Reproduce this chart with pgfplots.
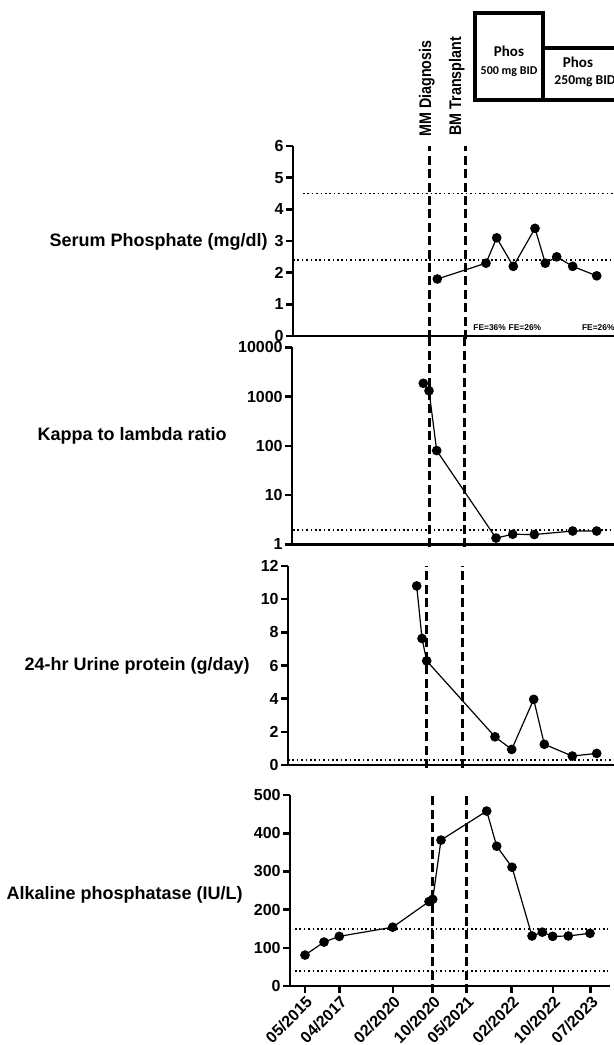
\documentclass[border=0pt]{standalone}
\usepackage{pgfplots}
\pgfplotsset{compat=1.18}
\usepackage{fontspec}
\setmainfont{Liberation Sans}
\newfontfamily\carlito{Carlito}

% one pixel of the reference = 0.5pt; x values are positions along the time line
\pgfplotsset{
  panel/.style={
    scale only axis, anchor=south west, clip=false,
    axis x line*=bottom, axis y line*=left,
    axis line style={line width=1.3pt},
    tick align=outside,
    major tick length=3.5pt,
    minor tick length=0pt,
    major tick style={black, line width=1.3pt},
    xtick=\empty,
    tick label style={font=\bfseries\fontsize{8}{9}\selectfont, inner sep=1pt},
    /pgf/number format/assume math mode=true,
  },
  pts/.style={black, line width=0.6pt, mark=*, mark size=2.1pt,
    mark options={solid, fill=black}},
}
\tikzset{
  vdash/.style={line width=1.5pt, dash pattern=on 4.5pt off 2.2pt},
  hdot/.style={line width=0.8pt, dash pattern=on 0.8pt off 1.4pt},
  fe/.style={anchor=west, inner sep=0, font=\bfseries\fontsize{4.2}{5}\selectfont},
}

\begin{document}
\begin{tikzpicture}
\useasboundingbox (0,0) rectangle (307pt,-522.5pt);
\clip (0,0) rectangle (307pt,-522.5pt);

% serum phosphate
\begin{axis}[panel, at={(146.5pt,-168pt)}, width=160.5pt, height=95pt,
  xmin=293, xmax=614, ymin=0, ymax=6, ytick={0,1,...,6}]
\draw[hdot] (axis cs:303,4.5) -- (axis cs:614,4.5);
\draw[hdot] (axis cs:293,2.4) -- (axis cs:614,2.4);
\draw[vdash, shorten <=-1.5pt] (axis cs:429.3,0) -- (axis cs:429.3,6);
\draw[vdash, shorten <=-1.5pt] (axis cs:465,0) -- (axis cs:465,6);
\node[fe] at (axis cs:473,0.25) {FE=36\%};
\node[fe] at (axis cs:508.3,0.25) {FE=26\%};
\node[fe] at (axis cs:581.7,0.25) {FE=26\%};
\addplot[pts] coordinates {(437.3,1.8) (486,2.3) (496.7,3.1) (513.3,2.2)
  (535,3.4) (545.3,2.3) (556.7,2.5) (572.7,2.2) (596.7,1.9)};
\end{axis}

% kappa to lambda ratio
\begin{axis}[panel, at={(146pt,-272.15pt)}, width=161pt, height=98.5pt,
  xmin=292, xmax=614, ymode=log, ymin=1, ymax=10000,
  ytick={1,10,100,1000,10000}, yticklabels={1,10,100,1000,10000},
  yminorticks=false]
\draw[hdot] (axis cs:293,1.95) -- (axis cs:614,1.95);
\draw[vdash, shorten <=-1.5pt, shorten >=-5.5pt] (axis cs:429,1) -- (axis cs:429,10000);
\draw[vdash, shorten <=-1.5pt, shorten >=-5.5pt] (axis cs:464,1) -- (axis cs:464,10000);
\addplot[pts] coordinates {(423.3,1860) (429,1310) (436.7,80) (496,1.34)
  (512.7,1.6) (534.3,1.58) (572.7,1.86) (596.7,1.86)};
\end{axis}

% 24-hr urine protein
\begin{axis}[panel, at={(144pt,-382.5pt)}, width=163pt, height=99.5pt,
  xmin=288, xmax=614, ymin=0, ymax=12, ytick={0,2,...,12}]
\draw[hdot] (axis cs:288,0.3) -- (axis cs:614,0.3);
\draw[vdash, shorten <=-1.5pt] (axis cs:426.7,0) -- (axis cs:426.7,12);
\draw[vdash, shorten <=-1.5pt] (axis cs:462,0) -- (axis cs:462,12);
\addplot[pts] coordinates {(416.7,10.8) (422,7.63) (426.7,6.28) (495,1.7)
  (511.7,0.94) (533.7,3.96) (544.3,1.25) (572.3,0.54) (596.7,0.7)};
\end{axis}

% alkaline phosphatase
\begin{axis}[panel, at={(145pt,-493pt)}, width=160pt, height=95.5pt,
  xmin=290, xmax=610, ymin=0, ymax=500, ytick={0,100,...,500},
  xtick={305,339.5,393,433,466.5,511.7,553,590.7},
  xticklabels={05/2015,04/2017,02/2020,10/2020,05/2021,02/2022,10/2022,07/2023},
  x tick label style={rotate=45, anchor=north east, inner sep=0.5pt}]
\draw[hdot] (axis cs:295,150) -- (axis cs:608,150);
\draw[hdot] (axis cs:295,40) -- (axis cs:608,40);
\draw[vdash, shorten <=-3.5pt] (axis cs:432.7,0) -- (axis cs:432.7,500);
\draw[vdash, shorten <=-3.5pt] (axis cs:466.3,0) -- (axis cs:466.3,500);
\addplot[pts] coordinates {(305,81) (324,115) (339.3,130) (392.7,154)
  (429,221) (432.7,227) (441,382) (486.7,458) (496.7,366) (512,311)
  (532,131) (542.3,141) (552.7,130) (568.3,131) (590,138)};
\end{axis}

% labels and treatment boxes, in reference pixels
\begin{scope}[x=0.5pt, y=-0.5pt, every node/.style={inner sep=0}]
\begin{scope}[every node/.append style={anchor=east, font=\bfseries\fontsize{9}{10}\selectfont}]
\node at (268,241.7) {Serum Phosphate (mg/dl)};
\node at (227,436) {Kappa to lambda ratio};
\node at (250,666) {24-hr Urine protein (g/day)};
\node at (243,895) {Alkaline phosphatase (IU/L)};
\end{scope}
\node[rotate=90, anchor=west, font=\bfseries\fontsize{8.4}{9}\selectfont]
  at (426.7,137) {\scalebox{0.85}[1]{MM Diagnosis}};
\node[rotate=90, anchor=west, font=\bfseries\fontsize{8.4}{9}\selectfont]
  at (456.7,136) {\scalebox{0.85}[1]{BM Transplant}};
\draw[line width=2.2pt] (475,13) rectangle (543,100);
\draw[line width=2.2pt] (543,48) rectangle (640,100);
\node[font=\carlito\bfseries\fontsize{7.5}{8}\selectfont] at (509,51.7) {Phos};
\node[font=\carlito\bfseries\fontsize{6}{7}\selectfont] at (509,71.7) {500 mg BID};
\node[font=\carlito\bfseries\fontsize{7.5}{8}\selectfont] at (578,62.7) {Phos};
\node[font=\carlito\bfseries\fontsize{6.8}{7.5}\selectfont] at (585,80.7) {250mg BID};
\end{scope}
\end{tikzpicture}
\end{document}
